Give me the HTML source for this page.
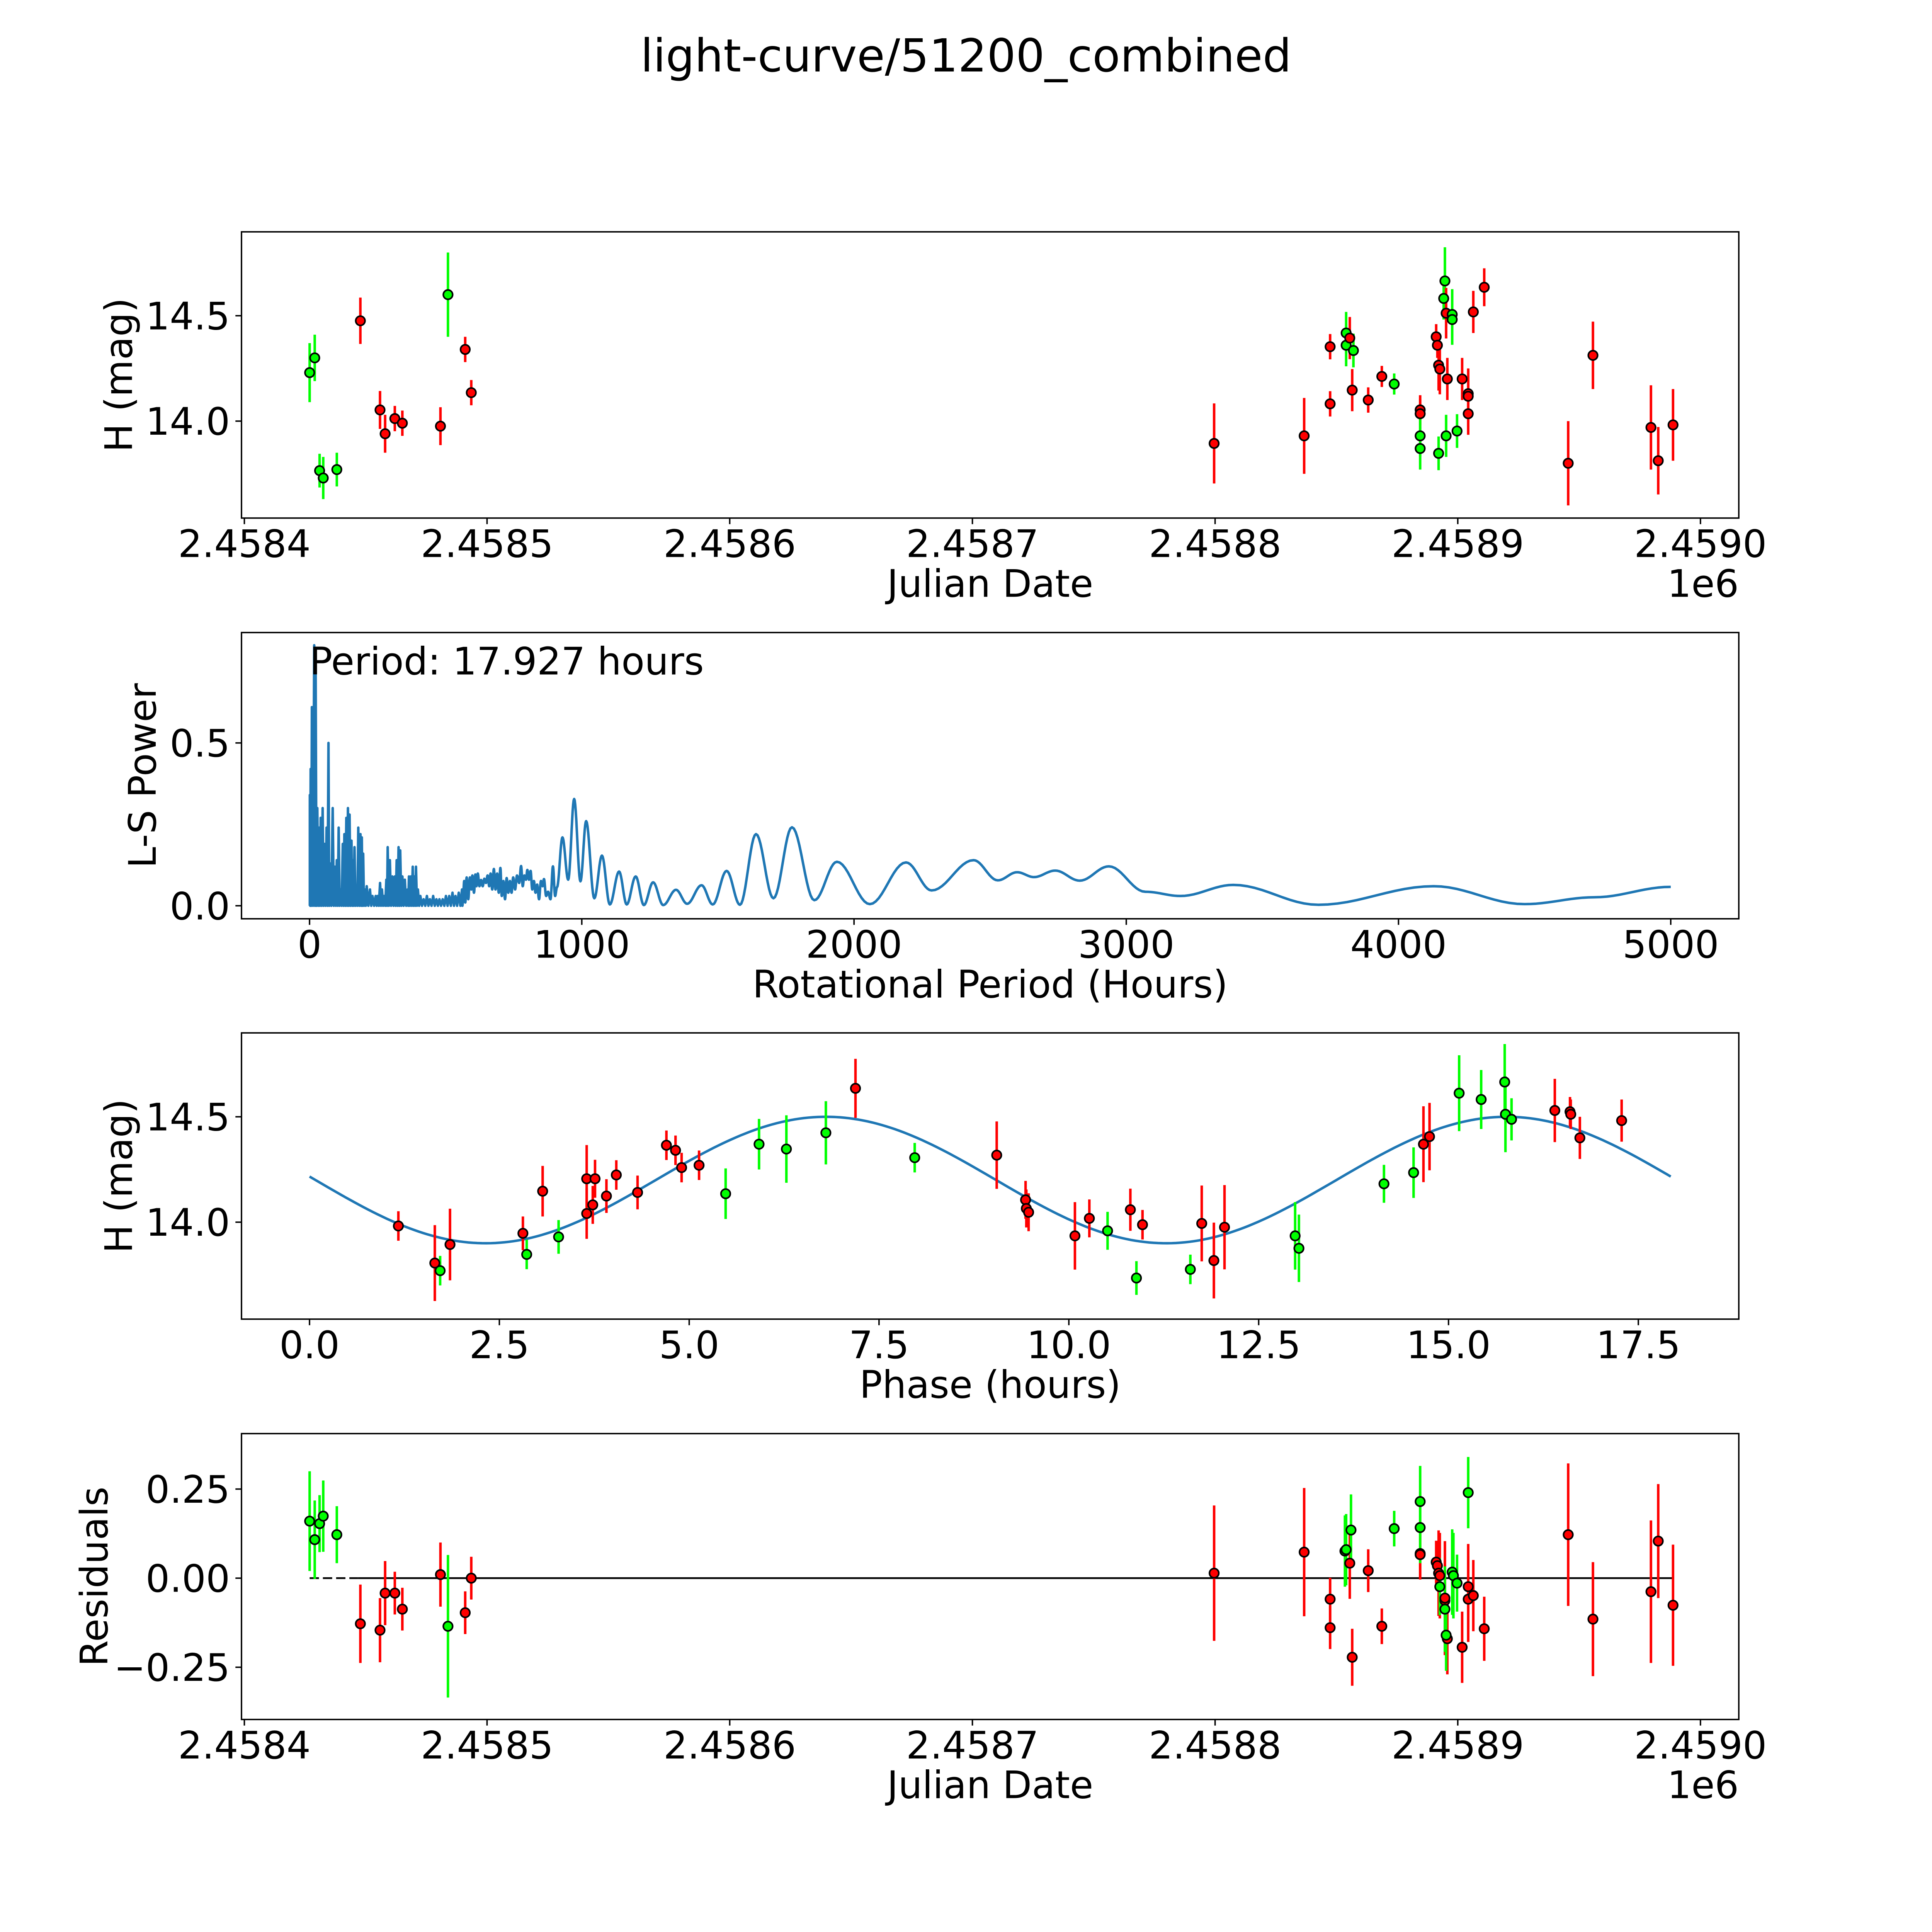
<!DOCTYPE html>
<html><head><meta charset="utf-8"><title>light-curve/51200_combined</title>
<style>
html,body{margin:0;padding:0;background:#fff;overflow:hidden;width:100%;height:100%;}
svg{display:block;position:absolute;left:0;top:0;width:100vw;height:100vh;font-family:"DejaVu Sans","Liberation Sans",sans-serif;}
</style></head>
<body>
<svg id="fig" xmlns="http://www.w3.org/2000/svg" viewBox="0 0 5400 5400" preserveAspectRatio="none">
<rect x="0" y="0" width="5400" height="5400" fill="#fff"/>
<text x="2700" y="200" font-size="127" text-anchor="middle">light-curve/51200_combined</text>
</svg>
<script>
// ---------- data ----------
const JD_BASE = 2458400;
// Panel 1: light curve (JD offset days, H mag, error, filter colour)
const lcDays = [26.9,29.0,31.0,32.5,38.1,47.8,55.9,58.0,62.0,65.1,80.8,83.9,91.0,93.5,399.6,436.7,447.4,447.4,454.0,454.0,455.5,456.5,457.0,463.1,468.7,473.8,484.5,484.5,484.5,484.5,491.1,491.6,492.1,492.6,492.1,494.2,494.7,495.2,495.7,495.2,497.7,497.7,499.7,501.8,504.3,504.3,504.3,506.4,510.9,545.5,555.7,579.6,582.6,588.7];
const lcMag = [14.23,14.30,13.765,13.73,13.77,14.476,14.053,13.94,14.012,13.99,13.976,14.60,14.34,14.135,13.894,13.93,14.082,14.353,14.418,14.36,14.394,14.147,14.335,14.10,14.212,14.176,14.053,14.035,13.93,13.87,14.40,14.36,14.265,14.247,13.847,14.582,14.665,14.512,14.20,13.93,14.506,14.482,13.953,14.20,14.13,14.118,14.035,14.518,14.635,13.80,14.312,13.97,13.812,13.982];
const lcErr = [.14,.11,.08,.10,.08,.11,.09,.09,.06,.06,.09,.20,.06,.06,.19,.18,.06,.06,.10,.10,.10,.10,.08,.06,.05,.05,.07,.07,.10,.10,.06,.06,.12,.12,.08,.10,.16,.12,.10,.10,.12,.12,.08,.10,.12,.12,.10,.10,.09,.20,.16,.20,.16,.17];
const lcBand = ['g','g','g','g','g','r','r','r','r','r','r','g','r','r','r','r','r','r','g','g','r','r','g','r','r','g','r','r','g','g','r','r','r','r','g','g','g','r','r','g','g','g','g','r','r','r','r','r','r','r','r','r','r','r'];

// Panel 2: Lomb-Scargle periodogram (period in hours, power)
const spikePeriod = [1,4,8.5,17,22.5,28.5,35,41,48,55,62.5,69.5,75,85,93,100,107,114,122,128,135,141,147,154,160,165,173,179,187,192,197,203,210,222,231,243,250,259,266,274,282,287,295,304,313,320,327,333,341,350,360,365,372,379,385,391,398,407,419,431,442,454,466,477,489,501,513,525,536,548,560];
const spikePower = [.34,.42,.61,.80,.71,.30,.24,.27,.30,.19,.24,.50,.13,.30,.12,.14,.24,.05,.19,.22,.27,.30,.28,.20,.14,.18,.03,.24,.22,.21,.16,.05,.06,.05,.03,.03,.03,.07,.05,.03,.08,.18,.14,.09,.09,.14,.18,.17,.09,.08,.05,.09,.09,.12,.09,.12,.05,.03,.02,.03,.02,.03,.02,.02,.02,.03,.03,.04,.03,.04,.05];
const curvePeriod = [563,568,572,577,583,589,594,598,604,609,613,618,624,630,636,642,648,654,660,665,671,677,683,689,695,701,706,712,718,724,730,736,742,748,755,762,770,777,783,789,795,800,806,812,818,824,830,836,843,850,856,861,869,876,885,894,902,909,929,950,972,995,1016,1046,1074,1103,1137,1165,1198,1228,1262,1299,1346,1387,1440,1481,1532,1581,1640,1704,1772,1854,1937,2058,2191,2285,2439,2528,2599,2661,2739,2829,2936,3070,3199,3393,3705,4129,4463,4719,5000];
const curvePower = [.01,.076,.01,.087,.02,.087,.05,.093,.04,.096,.06,.099,.06,.079,.06,.083,.07,.093,.06,.099,.05,.113,.05,.099,.04,.116,.03,.076,.02,.085,.04,.076,.04,.087,.05,.093,.07,.122,.06,.093,.08,.11,.08,.107,.05,.076,.04,.065,.02,.076,.06,.082,.03,.043,.02,.121,.03,.057,.21,.08,.328,.075,.26,.023,.154,.004,.105,.004,.09,.002,.072,.002,.049,.006,.063,.004,.107,.003,.22,.023,.241,.017,.135,.005,.133,.047,.14,.078,.103,.088,.108,.077,.121,.043,.03,.064,.003,.06,.005,.026,.058];
const bestPeriodLabel = "Period: 17.927 hours";

// Panel 3: phase-folded (phase hours, mag, err, colour)
const phHours = [1.17,1.65,1.72,1.85,2.81,2.86,3.07,3.28,3.65,3.65,3.73,3.76,3.91,4.04,4.32,4.70,4.82,4.90,5.13,5.48,5.92,6.28,6.80,7.19,7.97,9.05,9.43,9.44,9.47,10.08,10.27,10.51,10.81,10.89,10.97,11.60,11.75,11.91,12.05,12.98,13.03,14.15,14.54,14.67,14.75,15.14,15.43,15.74,15.75,15.83,16.40,16.60,16.61,16.73,17.28];
const phMag = [13.982,13.806,13.77,13.894,13.947,13.847,14.147,13.93,14.206,14.041,14.082,14.206,14.124,14.224,14.141,14.365,14.341,14.259,14.27,14.135,14.37,14.347,14.424,14.635,14.306,14.318,14.106,14.065,14.047,13.935,14.018,13.959,14.059,13.735,13.988,13.776,13.994,13.818,13.976,13.935,13.876,14.182,14.235,14.37,14.406,14.612,14.582,14.665,14.512,14.488,14.53,14.524,14.512,14.40,14.482];
const phErr = [.07,.18,.07,.17,.08,.07,.12,.08,.16,.12,.09,.09,.08,.07,.08,.07,.07,.07,.07,.12,.12,.16,.15,.14,.07,.16,.09,.09,.09,.16,.09,.09,.1,.08,.07,.07,.18,.18,.2,.16,.16,.09,.12,.18,.16,.18,.14,.18,.18,.1,.15,.07,.07,.1,.1];
const phBand = ['r','r','g','r','r','g','r','g','r','r','r','r','r','r','r','r','r','r','r','g','g','g','g','r','g','r','r','r','r','r','r','g','r','g','r','g','r','r','r','g','g','g','g','r','r','g','g','g','g','g','r','r','r','r','r'];
// fitted model parameters (mean mag, amplitude, harmonic period, phase offset, fold period)
const modelMean = 14.2, modelAmp = 0.3, modelSubPeriod = 8.9635, modelShift = 4.56, foldPeriod = 17.927;

// Panel 4: residuals
const resDays = [26.9,29.0,31.0,32.5,38.1,47.8,55.9,58.0,62.0,65.1,80.8,83.9,91.0,93.5,399.6,436.7,447.4,447.4,453.5,454.0,455.5,456.0,456.5,463.1,468.7,473.8,484.5,484.5,484.5,484.5,491.1,491.6,492.1,492.6,492.6,494.7,494.7,494.7,495.7,495.2,497.7,498.2,499.7,501.8,504.3,504.3,504.3,506.4,510.9,545.5,555.7,579.6,582.6,588.7];
const resVal = [.16,.108,.153,.174,.122,-.128,-.146,-.042,-.042,-.087,.01,-.135,-.097,0,.014,.073,-.059,-.139,.076,.08,.042,.135,-.222,.021,-.135,.139,.069,.066,.142,.215,.045,.035,.014,.007,-.024,-.063,-.056,-.087,-.17,-.16,.017,.007,-.014,-.194,-.059,-.024,.24,-.049,-.142,.122,-.115,-.038,.104,-.076];
const resBand = ['g','g','g','g','g','r','r','r','r','r','r','g','r','r','r','r','r','r','g','g','r','g','r','r','r','g','r','r','g','g','r','r','r','r','g','r','r','g','r','g','g','g','g','r','r','r','g','r','r','r','r','r','r','r'];
const zeroDashedDays = [26.9, 46.8];
const zeroSolidDays = [46.8, 588.7];

// ---------- layout ----------
const NS = "http://www.w3.org/2000/svg";
const svg = document.getElementById('fig');
const L = 675, R = 4860;
const panels = [
  {top:648, bot:1448, x0:JD_BASE-1.18, x1:JD_BASE+615.8, y0:13.54, y1:14.898},
  {top:1768, bot:2568, x0:-250, x1:5250, y0:-0.04, y1:0.839},
  {top:2887, bot:3687, x0:-0.896, x1:18.823, y0:13.54, y1:14.898},
  {top:4007, bot:4806, x0:JD_BASE-1.18, x1:JD_BASE+615.8, y0:-0.3966, y1:0.4056}
];
function sx(p, v){ return L + (v - p.x0) / (p.x1 - p.x0) * (R - L); }
function sy(p, v){ return p.bot - (v - p.y0) / (p.y1 - p.y0) * (p.bot - p.top); }
function el(tag, attrs, parent){
  const e = document.createElementNS(NS, tag);
  for (const k in attrs) e.setAttribute(k, attrs[k]);
  (parent || svg).appendChild(e);
  return e;
}
const COL = {r:'#ff0000', g:'#00ff00'};

function drawAxes(p, idx, xticks, xlabels, yticks, ylabels, xtitle, ytitle, ytitleX, offsetText){
  const g = el('g', {});
  
  
  xticks.forEach((t, i) => {
    const x = sx(p, t);
    const tk = el('line', {x1:x, x2:x, y1:p.bot, y2:p.bot+17, stroke:'#000', 'stroke-width':4}, g);
    
    
    const tx = el('text', {x:x, y:p.bot+109, 'font-size':106, 'text-anchor':'middle'}, g);
    
    
    tx.textContent = xlabels[i];
  });
  yticks.forEach((t, i) => {
    const y = sy(p, t);
    const tk = el('line', {x1:L-17, x2:L, y1:y, y2:y, stroke:'#000', 'stroke-width':4}, g);
    
    
    const tx = el('text', {x:L-32, y:y+38, 'font-size':106, 'text-anchor':'end'}, g);
    
    
    tx.textContent = ylabels[i];
  });
  const xt = el('text', {x:(L+R)/2, y:p.bot+220, 'font-size':106, 'text-anchor':'middle'}, g);
  
  
  xt.textContent = xtitle;
  const cy = (p.top + p.bot) / 2;
  const yt = el('text', {x:ytitleX, y:cy, 'font-size':106, 'text-anchor':'middle', transform:'rotate(-90 '+ytitleX+' '+cy+')'}, g);
  
  
  yt.textContent = ytitle;
  if (offsetText){
    const ot = el('text', {x:R, y:p.bot+220, 'font-size':106, 'text-anchor':'end'}, g);
    
    
    ot.textContent = offsetText;
  }
  return g;
}
function drawFrame(p){
  const f = el('rect', {x:L, y:p.top, width:R-L, height:p.bot-p.top, fill:'none', stroke:'#000', 'stroke-width':4});
  
  
}
function drawPoints(p, xs, ys, errs, bands, nameBase){
  const g = el('g', {});
  
  
  for (let i = 0; i < xs.length; i++){
    const x = sx(p, xs[i]);
    const b = el('line', {x1:x, x2:x, y1:sy(p, ys[i]-errs[i]), y2:sy(p, ys[i]+errs[i]), stroke:COL[bands[i]], 'stroke-width':7}, g);
    
    
  }
  for (let i = 0; i < xs.length; i++){
    const c = el('circle', {cx:sx(p, xs[i]), cy:sy(p, ys[i]), r:13, fill:COL[bands[i]], stroke:'#000', 'stroke-width':4.5}, g);
    
    
  }
}

const jdTicks = [0,100,200,300,400,500,600].map(d => JD_BASE + d);
const jdLabels = ['2.4584','2.4585','2.4586','2.4587','2.4588','2.4589','2.4590'];

// Panel 1
const p1 = panels[0];
drawAxes(p1, 0, jdTicks, jdLabels, [14.0,14.5], ['14.0','14.5'], 'Julian Date', 'H (mag)', 369, '1e6');
drawPoints(p1, lcDays.map(d => d + JD_BASE), lcMag, lcErr, lcBand, 'light-curve');
drawFrame(p1);

// Panel 2
const p2 = panels[1];
drawAxes(p2, 1, [0,1000,2000,3000,4000,5000], ['0','1000','2000','3000','4000','5000'], [0,0.5], ['0.0','0.5'], 'Rotational Period (Hours)', 'L-S Power', 435, null);
(function(){
  let d = 'M' + sx(p2, spikePeriod[0]) + ' ' + sy(p2, 0);
  for (let i = 0; i < spikePeriod.length; i++){
    d += ' L' + sx(p2, spikePeriod[i]).toFixed(1) + ' ' + sy(p2, spikePower[i]).toFixed(1);
    const nx = i + 1 < spikePeriod.length ? spikePeriod[i+1] : curvePeriod[0];
    d += ' L' + sx(p2, (spikePeriod[i] + nx) / 2).toFixed(1) + ' ' + sy(p2, 0).toFixed(1);
  }
  d += ' L' + sx(p2, curvePeriod[0]).toFixed(1) + ' ' + sy(p2, curvePower[0]).toFixed(1);
  for (let i = 0; i + 1 < curvePeriod.length; i++){
    const a = curvePeriod[i], b = curvePeriod[i+1], va = curvePower[i], vb = curvePower[i+1];
    for (let k = 1; k <= 12; k++){
      const t = k / 12, s = (1 - Math.cos(Math.PI * t)) / 2;
      d += ' L' + sx(p2, a + (b - a) * t).toFixed(1) + ' ' + sy(p2, va + (vb - va) * s).toFixed(1);
    }
  }
  const path = el('path', {d:d, fill:'none', stroke:'#1f77b4', 'stroke-width':7, 'stroke-linejoin':'round'});
  
  
  const lbl = el('text', {x:sx(p2, 0), y:sy(p2, 0.71), 'font-size':106});
  
  
  lbl.textContent = bestPeriodLabel;
})();
drawFrame(p2);

// Panel 3
const p3 = panels[2];
drawAxes(p3, 2, [0,2.5,5,7.5,10,12.5,15,17.5], ['0.0','2.5','5.0','7.5','10.0','12.5','15.0','17.5'], [14.0,14.5], ['14.0','14.5'], 'Phase (hours)', 'H (mag)', 369, null);
(function(){
  let d = '';
  const n = 300;
  for (let k = 0; k <= n; k++){
    const ph = foldPeriod * k / n;
    const m = modelMean + modelAmp * Math.sin(2 * Math.PI * (ph - modelShift) / modelSubPeriod);
    d += (k ? ' L' : 'M') + sx(p3, ph).toFixed(1) + ' ' + sy(p3, m).toFixed(1);
  }
  const path = el('path', {d:d, fill:'none', stroke:'#1f77b4', 'stroke-width':7});
  
  
})();
drawPoints(p3, phHours, phMag, phErr, phBand, 'phased');
drawFrame(p3);

// Panel 4
const p4 = panels[3];
drawAxes(p4, 3, jdTicks, jdLabels, [-0.25,0,0.25], ['\u22120.25','0.00','0.25'], 'Julian Date', 'Residuals', 300, '1e6');
(function(){
  const dl = el('line', {x1:sx(p4, JD_BASE+zeroDashedDays[0]), x2:sx(p4, JD_BASE+zeroDashedDays[1]), y1:sy(p4,0), y2:sy(p4,0), stroke:'#000', 'stroke-width':5, 'stroke-dasharray':'26 11'});
  
  
  const sl = el('line', {x1:sx(p4, JD_BASE+zeroSolidDays[0]), x2:sx(p4, JD_BASE+zeroSolidDays[1]), y1:sy(p4,0), y2:sy(p4,0), stroke:'#000', 'stroke-width':5});
  
  
})();
drawPoints(p4, resDays.map(d => d + JD_BASE), resVal, lcErr, resBand, 'residual');
drawFrame(p4);
</script>
</body></html>
